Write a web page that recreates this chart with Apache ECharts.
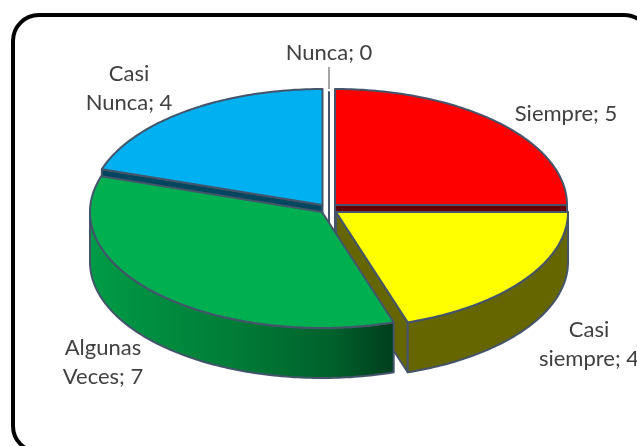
<!DOCTYPE html>
<html>
<head>
<meta charset="utf-8">
<title>demo</title>
<script src="https://cdn.jsdelivr.net/npm/echarts@6/dist/echarts.min.js"></script>
<style>
    html, body { margin: 0; padding: 0; background: #fff; overflow: hidden; }
    #echarts { width: 637px; height: 446px; }
</style>
</head>
<body>
<div id="echarts"></div>
<script>
var categories = ['Siempre', 'Casi siempre', 'Algunas Veces', 'Casi Nunca', 'Nunca'];
var values = [5, 4, 7, 4, 0];

// look of each slice, same order as categories
var topColors = ['#FF0000', '#FFFF00', '#00B050', '#00B0F0', '#FFFFFF'];
var sideColors = ['#660000', '#666600', 'gradient', '#00465F', '#FFFFFF'];
var offsets = [[6, -3], [7, 4], [-7, 4], [-6.5, -3], [0, 0]];
var labelPos = [[566, 114], [589, 344], [103, 362], [129, 88], [329, 53]];

// painted back to front
var drawOrder = [3, 4, 0, 1, 2];

var centerX = 329, centerY = 208, radiusX = 232, radiusY = 116, depth = 50;
var edgeColor = '#44546A';

function rimPoint(cx, cy, deg, drop) {
    var rad = deg * Math.PI / 180;
    return [cx + radiusX * Math.sin(rad), cy - radiusY * Math.cos(rad) + drop];
}

function get_angles() {
    var total = 0, sum = 0, angles = [];
    for (var i = 0; i < values.length; i++) {
        total += values[i];
    }
    for (var j = 0; j < values.length; j++) {
        angles.push([sum / total * 360, (sum + values[j]) / total * 360]);
        sum += values[j];
    }
    return angles;
}

function arc_points(cx, cy, from, to, drop) {
    var pts = [];
    var step = from <= to ? 1 : -1;
    for (var a = from; step > 0 ? a < to : a > to; a += step) {
        pts.push(rimPoint(cx, cy, a, drop));
    }
    pts.push(rimPoint(cx, cy, to, drop));
    return pts;
}

function get_side_fill(i) {
    if (sideColors[i] !== 'gradient') {
        return sideColors[i];
    }
    return new echarts.graphic.LinearGradient(0, 0, 1, 0, [
        { offset: 0, color: '#009C47' },
        { offset: 0.5, color: '#007A36' },
        { offset: 0.8, color: '#00602B' },
        { offset: 1, color: '#003D1C' }
    ]);
}

function poly(points, fill) {
    return {
        type: 'polygon',
        shape: { points: points },
        style: { fill: fill, stroke: edgeColor, lineWidth: 2, lineJoin: 'round' }
    };
}

function radial_face(cx, cy, deg) {
    var rim = rimPoint(cx, cy, deg, 0);
    return [[cx, cy], rim, [rim[0], rim[1] + depth], [cx, cy + depth]];
}

function render_slice(params) {
    var i = drawOrder[params.dataIndex];
    var angle = get_angles()[i];
    var a0 = angle[0], a1 = angle[1];
    var cx = centerX + offsets[i][0];
    var cy = centerY + offsets[i][1];
    var children = [];
    var fill = get_side_fill(i);

    // cut faces, only those turned to the viewer
    if (a0 === a1) {
        children.push(poly(radial_face(cx, cy, a1), fill));
    } else {
        if (Math.sin(a1 * Math.PI / 180) > 0.01) {
            children.push(poly(radial_face(cx, cy, a1), fill));
        }
        if (Math.sin(a0 * Math.PI / 180) < -0.01) {
            children.push(poly(radial_face(cx, cy, a0), fill));
        }
    }

    // outer wall, front half of the ellipse only
    var wallFrom = Math.max(a0, 90), wallTo = Math.min(a1, 270);
    if (wallTo > wallFrom) {
        var wall = arc_points(cx, cy, wallFrom, wallTo, 0)
            .concat(arc_points(cx, cy, wallTo, wallFrom, depth));
        children.push(poly(wall, fill));
    }

    // top face
    if (a1 > a0) {
        children.push(poly([[cx, cy]].concat(arc_points(cx, cy, a0, a1, 0)), topColors[i]));
    }

    // leader of the empty slice
    if (values[i] === 0) {
        children.push({
            type: 'line',
            shape: { x1: cx, y1: 67, x2: cx, y2: 89 },
            style: { stroke: '#A6A6A6', lineWidth: 2 }
        });
    }

    return { type: 'group', children: children };
}

function render_label(params) {
    var i = params.dataIndex;
    return {
        type: 'text',
        x: labelPos[i][0],
        y: labelPos[i][1],
        style: {
            text: categories[i].replace(' ', '\n') + '; ' + values[i],
            fill: '#404040',
            font: '22px Lato',
            lineHeight: 29,
            align: 'center',
            verticalAlign: 'middle'
        }
    };
}

function get_option() {
    return {
        backgroundColor: '#fff',
        animation: false,
        graphic: [{
            type: 'rect',
            shape: { x: 13, y: 15, width: 637, height: 437, r: 26 },
            style: { fill: 'none', stroke: '#000', lineWidth: 4 },
            z: 0
        }],
        series: [
            {
                type: 'custom',
                coordinateSystem: 'none',
                silent: true,
                renderItem: render_slice,
                data: drawOrder.map(function (i) { return values[i]; }),
                z: 2
            },
            {
                type: 'custom',
                coordinateSystem: 'none',
                silent: true,
                renderItem: render_label,
                data: values,
                z: 3
            }
        ]
    };
}

var myChart = echarts.init(document.getElementById('echarts'));
myChart.setOption(get_option());
</script>
</body>
</html>
